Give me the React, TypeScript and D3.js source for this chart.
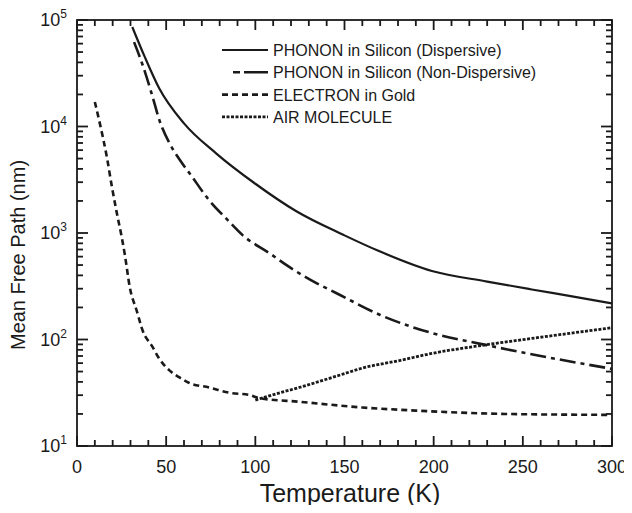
import React from "react";
import * as d3 from "d3";

type Pt = [number, number];

const dispersive: Pt[] = [
  [31, 86000], [38, 45000], [46, 23000], [60, 10700], [78, 5600], [100, 2900],
  [123, 1600], [150, 950], [169, 680], [199, 440], [230, 350], [255, 295],
  [280, 250], [300, 218],
];
const nonDispersive: Pt[] = [
  [32, 62000], [37, 37000], [42, 20000], [46.4, 11200], [52, 6900], [57.5, 4900],
  [64, 3470], [74, 2040], [84, 1350], [93, 950], [108, 645], [119, 480],
  [134, 340], [145, 275], [170, 170], [199, 115], [229, 89], [260, 70], [300, 53],
];
const electron: Pt[] = [
  [10, 17000], [12.8, 10700], [16.8, 5100], [19.6, 2700], [22.3, 1550],
  [25.1, 912], [26.8, 630], [29.6, 309], [33.5, 186], [36.9, 120], [42, 87],
  [46.4, 65], [52, 51], [57.5, 44], [63, 39], [74, 35.5], [85.5, 31.6],
  [96.6, 30.2], [102, 28.2], [125, 26], [160, 23], [190, 21.5], [240, 20],
  [300, 19.6],
];
const airMolecule: Pt[] = [
  [100, 27], [112, 31], [125, 35.6], [145, 45], [162, 55], [180, 63],
  [199, 74], [229, 89], [260, 105], [300, 129],
];

const seriesNames = [
  "PHONON in Silicon (Dispersive)",
  "PHONON in Silicon (Non-Dispersive)",
  "ELECTRON in Gold",
  "AIR MOLECULE",
];
const xTicks = [0, 50, 100, 150, 200, 250, 300];
const yDecades = [1, 2, 3, 4, 5];

const W = 632, H = 513;
const left = 77, right = 612, top = 20, bottom = 446;
const font = "'Liberation Sans', Arial, sans-serif";
const ink = "#1a1a1a";

const styles = [
  { dash: undefined, width: 2.2 },
  { dash: "16,5,4,5", width: 2.6 },
  { dash: "6,4", width: 2.6 },
  { dash: "3,1.5", width: 2.8 },
];

export default function App() {
  const x = d3.scaleLinear().domain([0, 300]).range([left, right]);
  const y = d3.scaleLog().domain([10, 100000]).range([bottom, top]);

  const minorX = d3.range(0, 301, 10).filter((t) => t % 50 !== 0);
  const majorY = yDecades.map((d) => Math.pow(10, d));
  const minorY: number[] = [];
  yDecades.slice(0, 4).forEach((d) => {
    for (let m = 2; m <= 9; m++) minorY.push(m * Math.pow(10, d));
  });

  // inward tick marks on all four sides, drawn as small filled bars
  const bars: { x: number; y: number; w: number; h: number }[] = [];
  const tw = 1.8;
  xTicks.forEach((t) => {
    bars.push({ x: x(t) - tw / 2, y: bottom - 10, w: tw, h: 10 });
    bars.push({ x: x(t) - tw / 2, y: top, w: tw, h: 10 });
  });
  minorX.forEach((t) => {
    bars.push({ x: x(t) - tw / 2, y: bottom - 6, w: tw, h: 6 });
    bars.push({ x: x(t) - tw / 2, y: top, w: tw, h: 6 });
  });
  majorY.forEach((v) => {
    bars.push({ x: left, y: y(v) - tw / 2, w: 11, h: tw });
    bars.push({ x: right - 11, y: y(v) - tw / 2, w: 11, h: tw });
  });
  minorY.forEach((v) => {
    bars.push({ x: left, y: y(v) - tw / 2, w: 6, h: tw });
    bars.push({ x: right - 6, y: y(v) - tw / 2, w: 6, h: tw });
  });

  const line = d3.line<Pt>()
    .x((d) => x(d[0])).y((d) => y(d[1]))
    .curve(d3.curveMonotoneX);

  const all = [dispersive, nonDispersive, electron, airMolecule];

  return (
    <svg width={W} height={H} style={{ display: "block", margin: -8 }}>
      <rect x={left} y={top} width={right - left} height={bottom - top}
        fill="none" stroke={ink} strokeWidth={1.8} />
      {bars.map((b, i) => (
        <rect key={"t" + i} x={b.x} y={b.y} width={b.w} height={b.h} fill={ink} />
      ))}

      {xTicks.map((t) => (
        <text key={t} x={x(t)} y={bottom + 27} textAnchor="middle" fill={ink}
          style={{ fontFamily: font, fontSize: 18 }}>{t}</text>
      ))}
      {yDecades.map((d) => (
        <text key={d} x={left - 10} y={y(Math.pow(10, d)) + 6} textAnchor="end" fill={ink}
          style={{ fontFamily: font, fontSize: 18 }}>
          10<tspan dy={-8} style={{ fontSize: 12 }}>{d}</tspan>
        </text>
      ))}

      <text x={350} y={502} textAnchor="middle" fill={ink}
        style={{ fontFamily: font, fontSize: 25 }}>Temperature (K)</text>
      <text transform="translate(25, 255) rotate(-90)" textAnchor="middle" fill={ink}
        style={{ fontFamily: font, fontSize: 20 }}>Mean Free Path (nm)</text>

      {all.map((data, i) => (
        <path key={i} d={line(data) || ""} fill="none" stroke={ink}
          strokeWidth={styles[i].width} strokeDasharray={styles[i].dash} />
      ))}

      {seriesNames.map((name, i) => {
        const ly = 50 + i * 22.3;
        return (
          <g key={name}>
            <line x1={i === 1 ? 233 : 222} x2={268} y1={ly} y2={ly} stroke={ink}
              strokeWidth={styles[i].width}
              strokeDasharray={i === 1 ? "7,4,30" : styles[i].dash} />
            <text x={273} y={ly + 6} fill={ink}
              style={{ fontFamily: font, fontSize: 16 }}>{name}</text>
          </g>
        );
      })}
    </svg>
  );
}
